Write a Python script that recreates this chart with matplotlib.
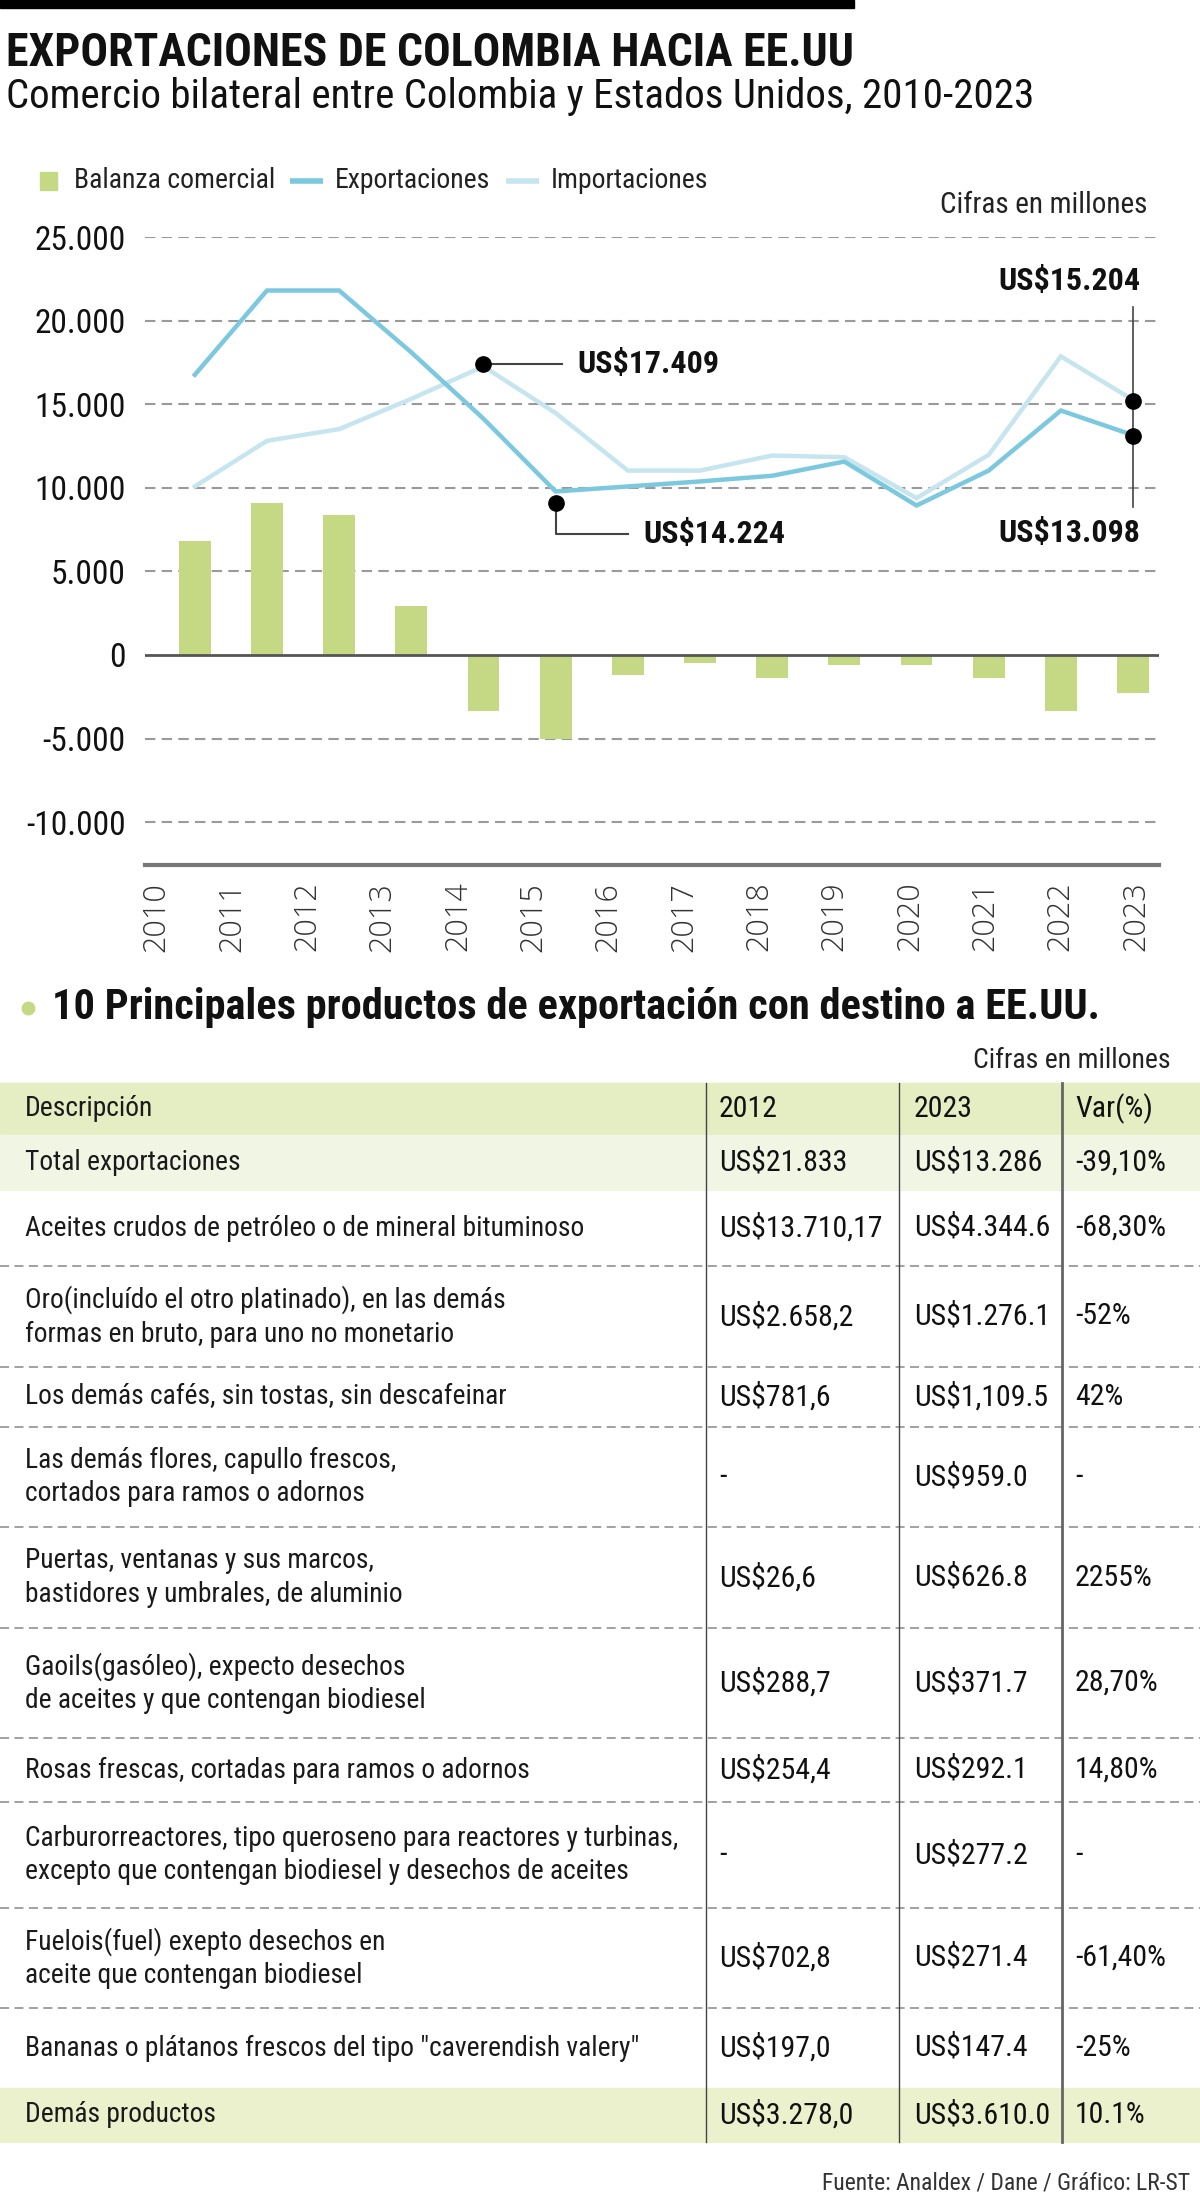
import numpy as np
import matplotlib
matplotlib.use('Agg')
import matplotlib.pyplot as plt
from matplotlib import font_manager as fm
from matplotlib.patches import Rectangle

# ---- data ----
years = ['2010', '2011', '2012', '2013', '2014', '2015', '2016',
         '2017', '2018', '2019', '2020', '2021', '2022', '2023']
exportaciones = [16760, 21800, 21800, 18100, 14130, 9780, 10080,
                 10380, 10720, 11570, 8940, 11030, 14620, 13150]
importaciones = [10080, 12810, 13510, 15320, 17260, 14470, 11030,
                 11030, 11930, 11830, 9380, 11970, 17860, 15260]
balanza = [6840, 9080, 8380, 2930, -3330, -5000, -1210,
           -500, -1370, -620, -620, -1370, -3330, -2280]
yticks = [-10000, -5000, 0, 5000, 10000, 15000, 20000, 25000]
ytick_labels = ['-10.000', '-5.000', '0', '5.000', '10.000', '15.000', '20.000', '25.000']
legend_labels = ['Balanza comercial', 'Exportaciones', 'Importaciones']

desc = ['Descripción', 'Total exportaciones',
        'Aceites crudos de petróleo o de mineral bituminoso',
        'Oro(incluído el otro platinado), en las demás\nformas en bruto, para uno no monetario',
        'Los demás cafés, sin tostas, sin descafeinar',
        'Las demás flores, capullo frescos,\ncortados para ramos o adornos',
        'Puertas, ventanas y sus marcos,\nbastidores y umbrales, de aluminio',
        'Gaoils(gasóleo), expecto desechos\nde aceites y que contengan biodiesel',
        'Rosas frescas, cortadas para ramos o adornos',
        'Carburorreactores, tipo queroseno para reactores y turbinas,\nexcepto que contengan biodiesel y desechos de aceites',
        'Fuelois(fuel) exepto desechos en\naceite que contengan biodiesel',
        'Bananas o plátanos frescos del tipo "caverendish valery"',
        'Demás productos']
col2012 = ['2012', 'US$21.833', 'US$13.710,17', 'US$2.658,2', 'US$781,6', '-',
           'US$26,6', 'US$288,7', 'US$254,4', '-', 'US$702,8', 'US$197,0', 'US$3.278,0']
col2023 = ['2023', 'US$13.286', 'US$4.344.6', 'US$1.276.1', 'US$1,109.5', 'US$959.0',
           'US$626.8', 'US$371.7', 'US$292.1', 'US$277.2', 'US$271.4', 'US$147.4', 'US$3.610.0']
colvar = ['Var(%)', '-39,10%', '-68,30%', '-52%', '42%', '-', '2255%', '28,70%',
          '14,80%', '-', '-61,40%', '-25%', '10.1%']

# ---- style ----
avail = {f.name for f in fm.fontManager.ttflist}
NARROW = next((n for n in ['Liberation Sans Narrow', 'Roboto Condensed',
                           'DejaVu Sans Condensed', 'Open Sans Condensed'] if n in avail), None)
k = 1.0
if NARROW is None:
    NARROW = 'Liberation Sans'
    k = 0.82
WIDE = 'Open Sans' if 'Open Sans' in avail else 'DejaVu Sans'
plt.rcParams['font.family'] = [NARROW, 'DejaVu Sans']

C_BAR = '#c5d985'
C_EXP = '#7cc8df'
C_IMP = '#c6e5ef'
C_GRID = '#9a9a9a'

W, H = 1200, 2205
fig = plt.figure(figsize=(W / 100, H / 100), dpi=100)

# overlay in pixel coordinates for titles, legend and table
ov = fig.add_axes([0, 0, 1, 1])
ov.set_xlim(0, W)
ov.set_ylim(H, 0)
ov.axis('off')


def rect(l, t, r, b):
    return [l / W, 1 - b / H, (r - l) / W, (b - t) / H]


ax = fig.add_axes(rect(145, 237, 1159, 865))
ax.patch.set_alpha(0)
x = np.arange(len(years))

for yv in yticks:
    if yv != 0:
        ax.axhline(yv, color=C_GRID, lw=1.5, ls=(0, (5, 3)), zorder=0)
ax.axhline(0, color='#555555', lw=2, zorder=3)
ax.bar(x, balanza, width=0.44, color=C_BAR, zorder=2)
ax.plot(x, importaciones, color=C_IMP, lw=3.2, solid_joinstyle='miter', zorder=4)
ax.plot(x, exportaciones, color=C_EXP, lw=3.2, solid_joinstyle='miter', zorder=5)

ax.set_xlim(-0.69, 13.36)
ax.set_ylim(-12560, 25000)
ax.set_yticks(yticks)
ax.set_yticklabels(ytick_labels, fontsize=24 * k, color='#111111')
ax.set_xticks(np.linspace(-0.53, 13.04, len(years)))
ax.set_xticklabels(years, rotation=90, fontsize=22, family=WIDE, fontweight='light',
                   color='#333333', va='top')
ax.tick_params(axis='y', length=0, pad=14)
ax.tick_params(axis='x', length=0, pad=12)
for s in ['top', 'right', 'left']:
    ax.spines[s].set_visible(False)
ax.spines['bottom'].set_color('#777777')
ax.spines['bottom'].set_linewidth(3)

# annotations
ann_kw = dict(fontsize=23 * k, fontweight='bold', color='#111111', va='center', zorder=7)
ax.plot([4, 5.09], [17409, 17409], color='#444444', lw=1.5, zorder=6)
ax.plot(4, 17409, 'o', color='black', ms=11, zorder=7)
ax.text(5.3, 17409, 'US$17.409', **ann_kw)

ax.plot([5, 5, 6.0], [exportaciones[5] - 700, 7240, 7240], color='#444444', lw=1.5, zorder=6)
ax.plot(5, exportaciones[5] - 700, 'o', color='black', ms=11, zorder=7)
ax.text(6.22, 7240, 'US$14.224', **ann_kw)

ax.plot([13, 13], [20810, 8880], color='#444444', lw=1.2, zorder=6)
ax.plot([13, 13], [15204, 13098], 'o', color='black', ms=11, zorder=7)
ax.text(13.1, 22350, 'US$15.204', ha='right', **ann_kw)
ax.text(13.1, 7280, 'US$13.098', ha='right', **ann_kw)

# ---- header ----
ov.add_patch(Rectangle((0, 0), 854, 8, color='black'))
ov.text(6, 53, 'EXPORTACIONES DE COLOMBIA HACIA EE.UU', fontsize=33 * k,
        fontweight='bold', color='#111111', va='center')
ov.text(6, 96, 'Comercio bilateral entre Colombia y Estados Unidos, 2010-2023',
        fontsize=29.5 * k, color='#111111', va='center')

# legend, items placed one after the other from measured text widths
renderer = fig.canvas.get_renderer()
ly = 181
cur = 40
for i, lab in enumerate(legend_labels):
    if i == 0:
        ov.add_patch(Rectangle((cur, ly - 9), 17, 18, color=C_BAR))
        cur += 34
    else:
        ov.plot([cur, cur + 33], [ly, ly], color=[C_EXP, C_IMP][i - 1], lw=4,
                solid_capstyle='butt')
        cur += 45
    t = ov.text(cur, ly, lab, fontsize=20 * k, color='#222222', va='center')
    cur = t.get_window_extent(renderer).x1 + 15
ov.text(1147, 205, 'Cifras en millones', fontsize=21 * k, color='#222222',
        ha='right', va='center')

# ---- table ----
ov.plot(28, 1008, 'o', color=C_BAR, ms=9)
ov.text(52, 1008, '10 Principales productos de exportación con destino a EE.UU.',
        fontsize=30.5 * k, fontweight='bold', color='#111111', va='center')
ov.text(1171, 1060, 'Cifras en millones', fontsize=20 * k, color='#222222',
        ha='right', va='center')

bounds = [1083, 1135, 1190, 1266, 1367, 1427, 1527, 1628, 1738, 1802, 1908, 2008, 2088, 2142]
fills = {0: '#e5edc3', 1: '#f1f5e4', 12: '#ecf1cd'}
col_x = [25, 719, 914, 1075]
for i in range(len(desc)):
    top, bot = bounds[i], bounds[i + 1]
    if i in fills:
        ov.add_patch(Rectangle((0, top), W, bot - top, color=fills[i], zorder=0))
    elif i < len(desc) - 1 and i + 1 not in fills:
        ov.plot([0, W], [bot, bot], color='#9a9a9a', lw=1.3, ls=(0, (5, 3)))
    cy = (top + bot) / 2
    ov.text(col_x[0], cy, desc[i], fontsize=19.8 * k, color='#1a1a1a', va='center',
            linespacing=1.3)
    for cx, val in zip(col_x[1:], [col2012[i], col2023[i], colvar[i]]):
        ov.text(cx, cy, val, fontsize=21.5 * k, color='#111111', va='center')

for xv, c, lw in [(706, '#444444', 1), (899, '#444444', 1), (1062, '#666666', 2)]:
    ov.plot([xv, xv], [bounds[0], bounds[-1]], color=c, lw=lw)

ov.text(1190, 2183, 'Fuente: Analdex / Dane / Gráfico: LR-ST', fontsize=17 * k,
        color='#333333', ha='right', va='center')

fig.savefig('out.png', dpi=100)
